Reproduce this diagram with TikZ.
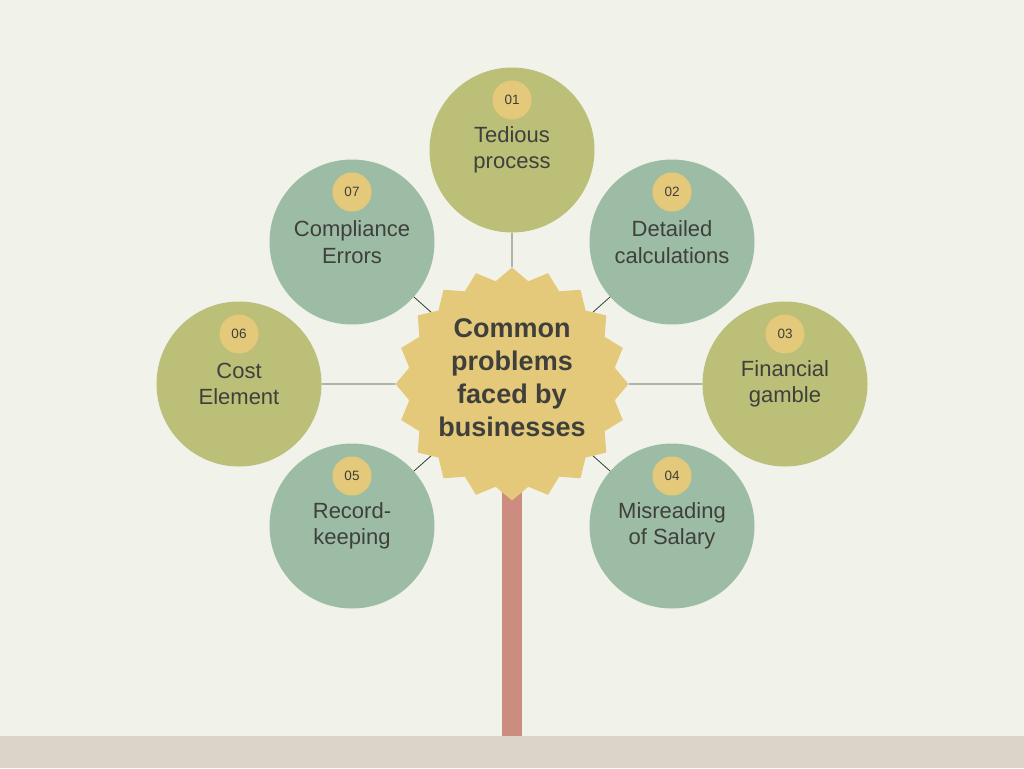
\documentclass[tikz,border=0pt]{standalone}
\usepackage{fontspec}
\setmainfont{Liberation Sans}
\usetikzlibrary{shapes.geometric}
\definecolor{paper}{HTML}{F1F2EA}
\definecolor{ground}{HTML}{DDD4C9}
\definecolor{bark}{HTML}{CD8C80}
\definecolor{olive}{HTML}{BBBF78}
\definecolor{sage}{HTML}{9DBCA6}
\definecolor{sun}{HTML}{E4C97A}
\definecolor{ink}{HTML}{3F403B}
\definecolor{twigdark}{HTML}{33433A}
\definecolor{twiglight}{HTML}{86978A}

\begin{document}
\begin{tikzpicture}[x=1pt, y=-1pt,
   leaf/.style={circle, minimum size=165pt, inner sep=0pt, align=center, text=ink,
                font=\fontsize{22}{26.5}\selectfont},
   olive leaf/.style={leaf, fill=olive},
   sage leaf/.style={leaf, fill=sage},
   badge/.style={circle, fill=sun, minimum size=39pt, inner sep=0pt, text=ink,
                 font=\fontsize{13.5}{15}\selectfont},
   hub/.style={star, star points=20, star point ratio=1.12, minimum size=230pt,
               inner sep=0pt, fill=sun, align=center, text=ink, text depth=13pt,
               font=\fontsize{27}{33}\selectfont\bfseries},
   twig/.style={draw=twigdark, line width=0.8pt},
   twig straight/.style={draw=twiglight, line width=1.2pt},
   trunk/.style={draw=bark, line width=20pt}]

% backdrop and soil
\fill[paper] (0,0) rectangle (1024,768);
\fill[ground] (0,736) rectangle (1024,768);

% trunk
\coordinate (heart) at (512,384);
\coordinate (root) at (512,736);
\draw[trunk] (heart) -- (root);

% the problems
\node[olive leaf] (c1) at (512,150) {Tedious\\process};
\node[sage leaf]  (c2) at (672,242) {Detailed\\calculations};
\node[olive leaf] (c3) at (785,384) {Financial\\gamble};
\node[sage leaf]  (c4) at (672,526) {Misreading\\of Salary};
\node[sage leaf]  (c5) at (352,526) {Record-\\keeping};
\node[olive leaf] (c6) at (239,384) {Cost\\Element};
\node[sage leaf]  (c7) at (352,242) {Compliance\\Errors};

\node[badge] (b1) at ([yshift=50pt]c1.center) {01};
\node[badge] (b2) at ([yshift=50pt]c2.center) {02};
\node[badge] (b3) at ([yshift=50pt]c3.center) {03};
\node[badge] (b4) at ([yshift=50pt]c4.center) {04};
\node[badge] (b5) at ([yshift=50pt]c5.center) {05};
\node[badge] (b6) at ([yshift=50pt]c6.center) {06};
\node[badge] (b7) at ([yshift=50pt]c7.center) {07};

% centre
\node[hub] (hub) at (heart) {Common\\problems\\faced by\\businesses};

% branches
\draw[twig straight] (hub) -- (c1);
\draw[twig] (hub) -- (c2);
\draw[twig straight] (hub) -- (c3);
\draw[twig] (hub) -- (c4);
\draw[twig] (hub) -- (c5);
\draw[twig straight] (hub) -- (c6);
\draw[twig] (hub) -- (c7);

\end{tikzpicture}
\end{document}
